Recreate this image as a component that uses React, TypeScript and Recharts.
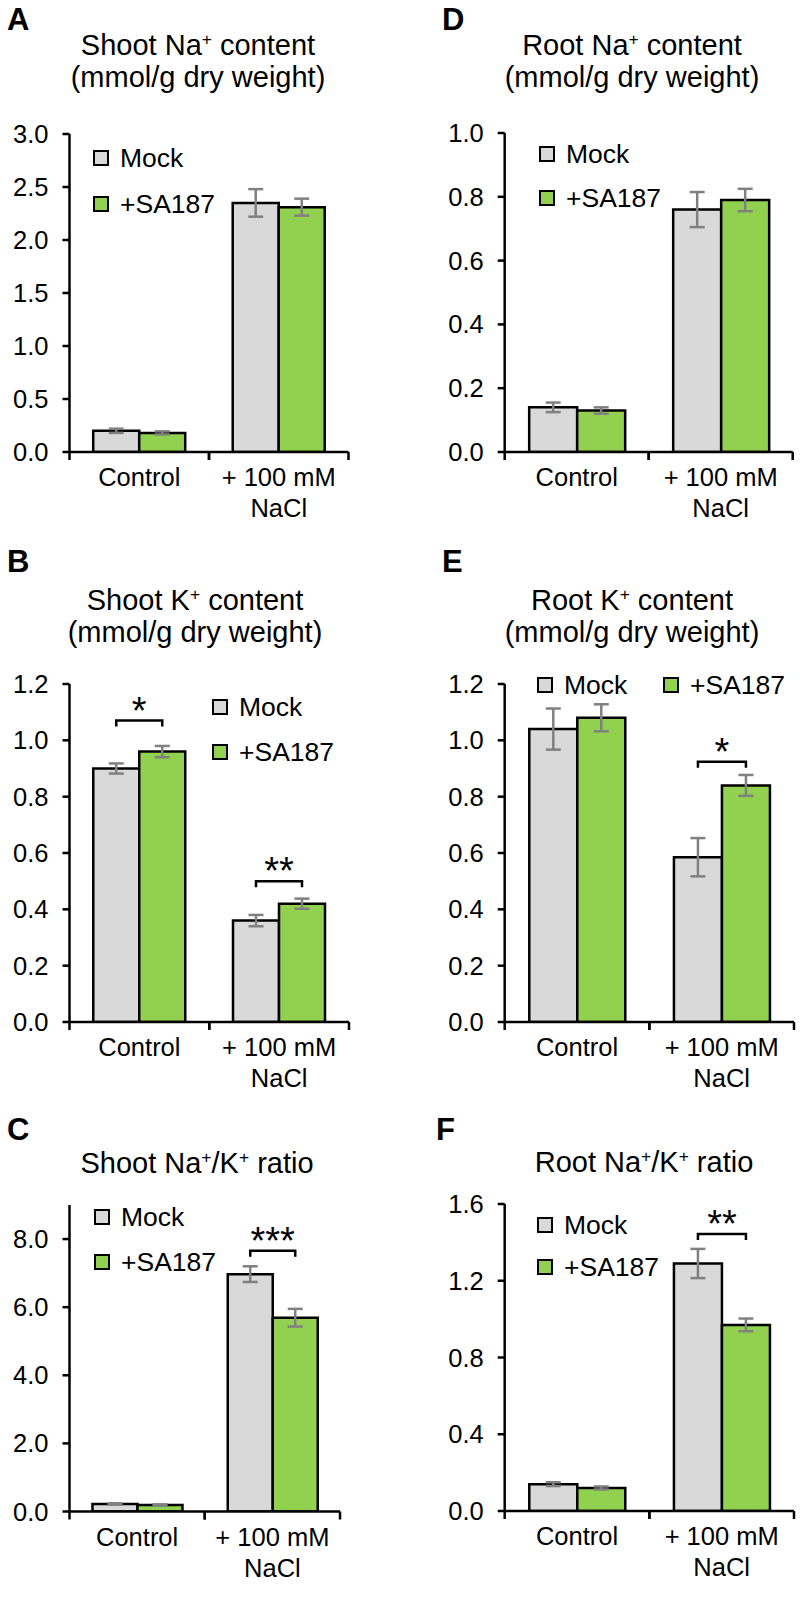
import React from 'react';
import { BarChart, Bar, XAxis, YAxis, ErrorBar, Legend, LabelList } from 'recharts';

const FONT = '"Liberation Sans", Arial, Helvetica, sans-serif';
const MOCK_FILL = '#d9d9d9';
const SA_FILL = '#92d050';
const ERR_STROKE = '#808080';
const INK = '#000';
const LW = 2.5;

const categories = ['Control', '+ 100 mM\nNaCl'];
const seriesNames = ['Mock', '+SA187'];

// A - shoot Na+
const shootNaMock = [0.2, 2.35];
const shootNaMockErr = [0.02, 0.13];
const shootNaSa = [0.18, 2.31];
const shootNaSaErr = [0.015, 0.08];
const shootNaTicks = [0, 0.5, 1, 1.5, 2, 2.5, 3];

// B - shoot K+
const shootKMock = [0.9, 0.36];
const shootKMockErr = [0.018, 0.02];
const shootKSa = [0.96, 0.42];
const shootKSaErr = [0.02, 0.018];
const shootKSig = ['*', '**'];
const shootKSigAt = [1.07, 0.5];
const shootKTicks = [0, 0.2, 0.4, 0.6, 0.8, 1, 1.2];

// C - shoot Na+/K+
const shootRatioMock = [0.22, 6.97];
const shootRatioMockErr = [0.02, 0.23];
const shootRatioSa = [0.19, 5.69];
const shootRatioSaErr = [0.02, 0.26];
const shootRatioSig = ['', '***'];
const shootRatioSigAt = [0, 7.66];
const shootRatioTicks = [0, 2, 4, 6, 8];

// D - root Na+
const rootNaMock = [0.14, 0.76];
const rootNaMockErr = [0.015, 0.055];
const rootNaSa = [0.13, 0.79];
const rootNaSaErr = [0.01, 0.035];
const rootNaTicks = [0, 0.2, 0.4, 0.6, 0.8, 1];

// E - root K+
const rootKMock = [1.04, 0.585];
const rootKMockErr = [0.073, 0.068];
const rootKSa = [1.08, 0.84];
const rootKSaErr = [0.048, 0.037];
const rootKSig = ['', '*'];
const rootKSigAt = [0, 0.924];
const rootKTicks = [0, 0.2, 0.4, 0.6, 0.8, 1, 1.2];

// F - root Na+/K+
const rootRatioMock = [0.14, 1.29];
const rootRatioMockErr = [0.01, 0.076];
const rootRatioSa = [0.12, 0.97];
const rootRatioSaErr = [0.008, 0.033];
const rootRatioSig = ['', '**'];
const rootRatioSigAt = [0, 1.443];
const rootRatioTicks = [0, 0.4, 0.8, 1.2, 1.6];

type Row = {
  name: string;
  mock: number;
  mockErr: number;
  sa: number;
  saErr: number;
  sig: string;
  sigAt: number;
};

function makeRows(mock: number[], mockErr: number[], sa: number[], saErr: number[], sig: string[] = [], sigAt: number[] = []): Row[] {
  return categories.map((name, i) => ({
    name,
    mock: mock[i],
    mockErr: mockErr[i],
    sa: sa[i],
    saErr: saErr[i],
    sig: sig[i] || '',
    sigAt: sigAt[i] || 0,
  }));
}

function CategoryTick(props: any) {
  const { x, y, payload, half } = props;
  const off = payload && typeof payload.offset === 'number' && payload.offset > 0 ? payload.offset : half;
  const lines = String(payload.value).split('\n');
  return (
    <g>
      <line x1={x - off} x2={x - off} y1={y} y2={y + 8} stroke={INK} strokeWidth={LW} />
      <line x1={x + off} x2={x + off} y1={y} y2={y + 8} stroke={INK} strokeWidth={LW} />
      <text x={x} y={y + 34} textAnchor="middle" fontSize={25.5} fontFamily={FONT} fill={INK}>
        {lines.map((l, i) => (
          <tspan key={i} x={x} dy={i === 0 ? 0 : 31}>{l}</tspan>
        ))}
      </text>
    </g>
  );
}

function SigMark(props: any) {
  const { rows } = props;
  const vb = props.viewBox || {};
  const x = Number(props.x ?? vb.x);
  const y = Number(props.y ?? vb.y);
  const w = Number(props.width ?? vb.width);
  const h = Number(props.height ?? vb.height);
  const idx = typeof props.index === 'number' ? props.index : rows.findIndex((r: Row) => r.sa === Number(props.value));
  const row: Row | undefined = rows[idx];
  if (!row || !row.sig || !(h > 0)) return null;
  // bar geometry gives the value scale
  const zero = y + h;
  const ppu = h / row.sa;
  const by = zero - row.sigAt * ppu;
  const x1 = x - w / 2;
  const x2 = x + w / 2;
  return (
    <g>
      <path d={`M${x1},${by + 6}V${by}H${x2}V${by + 6}`} fill="none" stroke={INK} strokeWidth={LW} />
      <text x={(x1 + x2) / 2} y={by + 3} textAnchor="middle" fontSize={38} fontFamily={FONT} fill={INK}>
        {row.sig}
      </text>
    </g>
  );
}

function LegendBox(props: any) {
  const { payload, horizontal, gap } = props;
  const items = [...(payload || [])].sort((a: any, b: any) => seriesNames.indexOf(a.value) - seriesNames.indexOf(b.value));
  return (
    <div style={{ display: 'flex', flexDirection: horizontal ? 'row' : 'column', fontFamily: FONT, fontSize: 26.5, color: INK }}>
      {items.map((e: any) => (
        <div key={e.value} style={{ display: 'flex', alignItems: 'center', height: gap, width: horizontal ? 126 : 'auto' }}>
          <span style={{ display: 'inline-block', width: 16, height: 16, boxSizing: 'border-box', border: `2.5px solid ${INK}`, background: e.color, marginRight: 11 }} />
          <span style={{ lineHeight: '26px', whiteSpace: 'nowrap' }}>{e.value}</span>
        </div>
      ))}
    </div>
  );
}

type PanelProps = {
  rows: Row[];
  ticks: number[];
  max: number;
  left: number;
  axisX: number;
  plotRight: number;
  plotTop: number;
  plotBottom: number;
  legend: { x: number; y: number; gap: number; horizontal?: boolean };
};

function Panel({ rows, ticks, max, left, axisX, plotRight, plotTop, plotBottom, legend }: PanelProps) {
  const mTop = 20;
  const xh = 80;
  const mBottom = 4;
  const width = 400;
  const height = mTop + (plotBottom - plotTop) + xh + mBottom;
  const top = plotTop - mTop;
  const half = (plotRight - axisX) / 4;
  return (
    <div style={{ position: 'absolute', left, top, width, height }}>
      <BarChart
        width={width}
        height={height}
        data={rows}
        margin={{ top: mTop, right: left + width - plotRight, left: 0, bottom: mBottom }}
        barCategoryGap="17%"
        barGap={0}
      >
        <XAxis
          dataKey="name"
          axisLine={{ stroke: INK, strokeWidth: LW }}
          tickLine={false}
          tickSize={0}
          tickMargin={0}
          height={xh}
          interval={0}
          tick={(p: any) => <CategoryTick {...p} half={half} />}
        />
        <YAxis
          type="number"
          domain={[0, max]}
          ticks={ticks}
          interval={0}
          allowDataOverflow
          width={axisX - left}
          axisLine={{ stroke: INK, strokeWidth: LW }}
          tickLine={{ stroke: INK, strokeWidth: LW }}
          tickSize={7}
          tickMargin={14}
          tick={{ fill: INK, fontSize: 25.5, fontFamily: FONT }}
          tickFormatter={(v: number) => Number(v).toFixed(1)}
        />
        <Legend
          layout={legend.horizontal ? 'horizontal' : 'vertical'}
          align="center"
          verticalAlign="middle"
          wrapperStyle={{ left: legend.x - left, top: legend.y - legend.gap / 2 - top, width: 'auto', height: 'auto' }}
          content={(p: any) => <LegendBox {...p} horizontal={legend.horizontal} gap={legend.gap} />}
        />
        <Bar dataKey="mock" name="Mock" fill={MOCK_FILL} stroke={INK} strokeWidth={LW} isAnimationActive={false}>
          <ErrorBar dataKey="mockErr" width={7.5} stroke={ERR_STROKE} strokeWidth={2.5} direction="y" isAnimationActive={false} />
        </Bar>
        <Bar dataKey="sa" name="+SA187" fill={SA_FILL} stroke={INK} strokeWidth={LW} isAnimationActive={false}>
          <ErrorBar dataKey="saErr" width={7.5} stroke={ERR_STROKE} strokeWidth={2.5} direction="y" isAnimationActive={false} />
          <LabelList dataKey="sa" content={(p: any) => <SigMark {...p} rows={rows} />} />
        </Bar>
      </BarChart>
    </div>
  );
}

function RichLine({ x, y, text, size }: { x: number; y: number; text: string; size: number }) {
  const parts = text.split('⁺');
  const sup = size * 0.6;
  const lift = size * 0.36;
  const spans: React.ReactNode[] = [];
  parts.forEach((part, i) => {
    spans.push(<tspan key={`p${i}`} dy={i === 0 ? 0 : lift}>{part}</tspan>);
    if (i < parts.length - 1) spans.push(<tspan key={`s${i}`} fontSize={sup} dy={-lift}>+</tspan>);
  });
  return (
    <text x={x} y={y} textAnchor="middle" fontSize={size} fontFamily={FONT} fill={INK}>
      {spans}
    </text>
  );
}

const titles = [
  { cx: 198, ys: [55, 87], lines: ['Shoot Na⁺ content', '(mmol/g dry weight)'] },
  { cx: 195, ys: [610, 642], lines: ['Shoot K⁺ content', '(mmol/g dry weight)'] },
  { cx: 197, ys: [1173], lines: ['Shoot Na⁺/K⁺ ratio'] },
  { cx: 632, ys: [55, 87], lines: ['Root Na⁺ content', '(mmol/g dry weight)'] },
  { cx: 632, ys: [610, 642], lines: ['Root K⁺ content', '(mmol/g dry weight)'] },
  { cx: 644, ys: [1172], lines: ['Root Na⁺/K⁺ ratio'] },
];

const letters = [
  { t: 'A', x: 7, y: 30 },
  { t: 'B', x: 7, y: 572 },
  { t: 'C', x: 7, y: 1140 },
  { t: 'D', x: 442, y: 30 },
  { t: 'E', x: 442, y: 572 },
  { t: 'F', x: 436, y: 1140 },
];

export default function App() {
  return (
    <div style={{ position: 'absolute', left: 0, top: 0, width: 800, height: 1597, background: '#fff', overflow: 'hidden' }}>
      <svg width={800} height={1597} style={{ position: 'absolute', left: 0, top: 0 }}>
        {titles.map((t, i) =>
          t.lines.map((l, j) => <RichLine key={`${i}-${j}`} x={t.cx} y={t.ys[j]} text={l} size={29} />)
        )}
        {letters.map((l) => (
          <text key={l.t} x={l.x} y={l.y} fontSize={31} fontWeight="bold" fontFamily={FONT} fill={INK}>{l.t}</text>
        ))}
      </svg>

      <Panel
        rows={makeRows(shootNaMock, shootNaMockErr, shootNaSa, shootNaSaErr)}
        ticks={shootNaTicks} max={3}
        left={0} axisX={69.5} plotRight={348.5} plotTop={134} plotBottom={452}
        legend={{ x: 93, y: 158, gap: 46 }}
      />
      <Panel
        rows={makeRows(shootKMock, shootKMockErr, shootKSa, shootKSaErr, shootKSig, shootKSigAt)}
        ticks={shootKTicks} max={1.2}
        left={0} axisX={69.5} plotRight={349} plotTop={684} plotBottom={1022}
        legend={{ x: 212, y: 707, gap: 45 }}
      />
      <Panel
        rows={makeRows(shootRatioMock, shootRatioMockErr, shootRatioSa, shootRatioSaErr, shootRatioSig, shootRatioSigAt)}
        ticks={shootRatioTicks} max={9}
        left={0} axisX={69.5} plotRight={340} plotTop={1204.5} plotBottom={1511}
        legend={{ x: 94, y: 1217, gap: 45 }}
      />
      <Panel
        rows={makeRows(rootNaMock, rootNaMockErr, rootNaSa, rootNaSaErr)}
        ticks={rootNaTicks} max={1}
        left={400} axisX={504.7} plotRight={792.7} plotTop={133} plotBottom={452}
        legend={{ x: 539, y: 154, gap: 44 }}
      />
      <Panel
        rows={makeRows(rootKMock, rootKMockErr, rootKSa, rootKSaErr, rootKSig, rootKSigAt)}
        ticks={rootKTicks} max={1.2}
        left={400} axisX={504.7} plotRight={794} plotTop={684} plotBottom={1022}
        legend={{ x: 537, y: 685, gap: 40, horizontal: true }}
      />
      <Panel
        rows={makeRows(rootRatioMock, rootRatioMockErr, rootRatioSa, rootRatioSaErr, rootRatioSig, rootRatioSigAt)}
        ticks={rootRatioTicks} max={1.6}
        left={400} axisX={504.7} plotRight={794} plotTop={1204} plotBottom={1511}
        legend={{ x: 537, y: 1225, gap: 42 }}
      />
    </div>
  );
}
